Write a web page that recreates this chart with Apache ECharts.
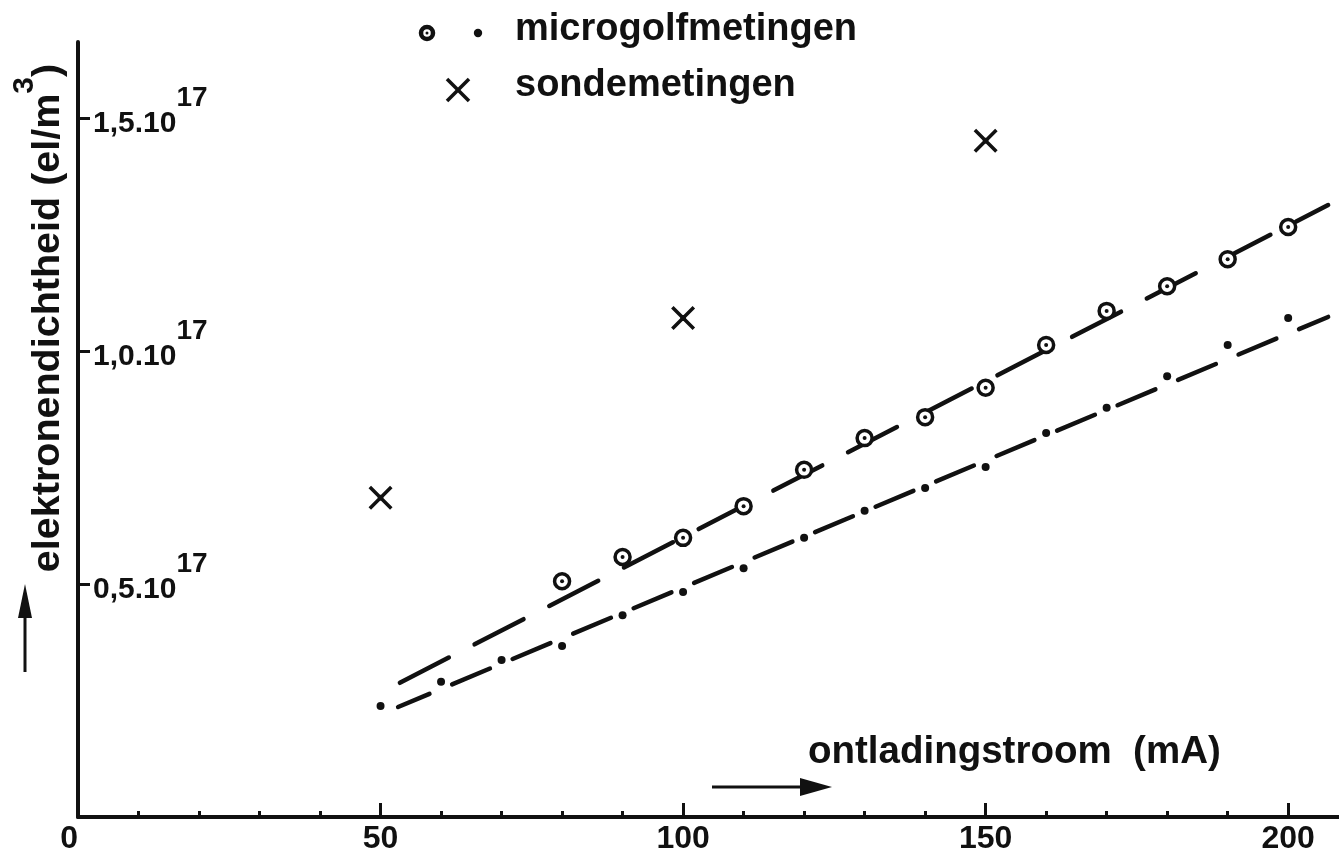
<!DOCTYPE html>
<html>
<head>
<meta charset="utf-8">
<title>elektronendichtheid</title>
<script src="https://cdn.jsdelivr.net/npm/echarts@6/dist/echarts.min.js"></script>
<style>
html, body { margin: 0; padding: 0; background: #fff; }
#chart { width: 1339px; height: 854px; }
</style>
</head>
<body>
<div id="chart"></div>
<script>
// microgolfmetingen, open rondjes (x: mA, y: 10^17 el/m3)
const ringCurrent = [80, 90, 100, 110, 120, 130, 140, 150, 160, 170, 180, 190, 200]
const ringDensity = [0.506, 0.558, 0.599, 0.667, 0.745, 0.813, 0.858, 0.921, 1.013, 1.086, 1.139, 1.197, 1.266]

// microgolfmetingen, punten
const dotCurrent = [50, 60, 70, 80, 90, 100, 110, 120, 130, 140, 150, 160, 170, 180, 190, 200]
const dotDensity = [0.238, 0.290, 0.337, 0.367, 0.433, 0.483, 0.534, 0.599, 0.657, 0.706, 0.751, 0.824, 0.878, 0.946, 1.013, 1.071]

// sondemetingen
const probeCurrent = [50, 100, 150]
const probeDensity = [0.685, 1.071, 1.451]

// getekende lijnen: begin- en eindpunt
const upperFit = [[53.2, 0.288], [206.6, 1.313]]
const lowerFit = [[52.9, 0.236], [206.6, 1.073]]

// asverdeling
const xLabelValues = [0, 50, 100, 150, 200]
const xMinorTicks = [10, 20, 30, 40, 60, 70, 80, 90, 110, 120, 130, 140, 160, 170, 180, 190]
const xMajorTicks = [50, 100, 150, 200]
const yTickValues = [0.5, 1.0, 1.5]

const ink = '#111'
const font = 'Liberation Sans'
const zip = (xs, ys) => xs.map((x, i) => [x, ys[i]])

const chart = echarts.init(document.getElementById('chart'))

const option = {
  backgroundColor: '#fff',
  animation: false,
  textStyle: { fontFamily: font, color: ink },
  grid: { left: 78, right: 0, top: 42, bottom: 37, containLabel: false, outerBoundsMode: 'none' },
  xAxis: [
    {
      type: 'value',
      min: 0,
      max: 208.4,
      axisLine: { show: true, lineStyle: { color: ink, width: 4 } },
      axisTick: { show: true, inside: true, length: 6, customValues: xMinorTicks, lineStyle: { color: ink, width: 3 } },
      axisLabel: {
        customValues: xLabelValues,
        alignMinLabel: 'right',
        margin: 6,
        color: ink,
        fontFamily: font,
        fontWeight: 'bold',
        fontSize: 32
      },
      splitLine: { show: false }
    },
    {
      // alleen de langere streepjes bij 50, 100, 150, 200
      type: 'value',
      min: 0,
      max: 208.4,
      position: 'bottom',
      axisLine: { show: false },
      axisTick: { show: true, inside: true, length: 14, customValues: xMajorTicks, lineStyle: { color: ink, width: 3 } },
      axisLabel: { show: false },
      splitLine: { show: false }
    }
  ],
  yAxis: {
    type: 'value',
    min: 0,
    max: 1.663,
    axisLine: { show: true, lineStyle: { color: ink, width: 4 } },
    axisTick: { show: true, inside: true, length: 12, customValues: yTickValues, lineStyle: { color: ink, width: 3 } },
    axisLabel: {
      customValues: yTickValues,
      inside: true,
      margin: 15,
      padding: [0, 0, 13, 0],
      formatter: function(v) {
        return '{b|' + v.toFixed(1).replace('.', ',') + '.10}{s|17}'
      },
      rich: {
        b: { fontFamily: font, fontWeight: 'bold', fontSize: 30, lineHeight: 30, color: ink, verticalAlign: 'bottom' },
        s: { fontFamily: font, fontWeight: 'bold', fontSize: 28, lineHeight: 54, color: ink, verticalAlign: 'top' }
      }
    },
    splitLine: { show: false }
  },
  graphic: [
    // y-as titel
    {
      type: 'text',
      x: 68,
      y: 318,
      rotation: Math.PI / 2,
      style: {
        text: '{a|elektronendichtheid (el/m}{s|3}{a|)}',
        align: 'center',
        verticalAlign: 'bottom',
        rich: {
          a: { fontFamily: font, fontWeight: 'bold', fontSize: 39.5, lineHeight: 40, fill: ink, verticalAlign: 'bottom' },
          s: { fontFamily: font, fontWeight: 'bold', fontSize: 30, lineHeight: 58, fill: ink, verticalAlign: 'top' }
        }
      }
    },
    // pijl langs y-as
    { type: 'line', shape: { x1: 25, y1: 672, x2: 25, y2: 610 }, style: { stroke: ink, lineWidth: 3 } },
    { type: 'polygon', shape: { points: [[18, 618], [32, 618], [25, 584]] }, style: { fill: ink } },
    // x-as titel en pijl
    {
      type: 'text',
      x: 808,
      y: 752,
      style: { text: 'ontladingstroom  (mA)', fontFamily: font, fontWeight: 'bold', fontSize: 38.5, fill: ink, verticalAlign: 'middle' }
    },
    { type: 'line', shape: { x1: 712, y1: 787, x2: 805, y2: 787 }, style: { stroke: ink, lineWidth: 3 } },
    { type: 'polygon', shape: { points: [[800, 778], [800, 796], [832, 787]] }, style: { fill: ink } },
    // legenda
    { type: 'circle', shape: { cx: 427, cy: 33, r: 6 }, style: { fill: '#fff', stroke: ink, lineWidth: 4.5 } },
    { type: 'circle', shape: { cx: 427, cy: 33, r: 1.5 }, style: { fill: ink } },
    { type: 'circle', shape: { cx: 478, cy: 33, r: 4.2 }, style: { fill: ink } },
    {
      type: 'text',
      x: 515,
      y: 30,
      style: { text: 'microgolfmetingen', fontFamily: font, fontWeight: 'bold', fontSize: 38, fill: ink, verticalAlign: 'middle' }
    },
    { type: 'line', shape: { x1: 447, y1: 79, x2: 469, y2: 101 }, style: { stroke: ink, lineWidth: 3.5 } },
    { type: 'line', shape: { x1: 447, y1: 101, x2: 469, y2: 79 }, style: { stroke: ink, lineWidth: 3.5 } },
    {
      type: 'text',
      x: 515,
      y: 86,
      style: { text: 'sondemetingen', fontFamily: font, fontWeight: 'bold', fontSize: 38, fill: ink, verticalAlign: 'middle' }
    }
  ],
  series: [
    {
      name: 'lijn microgolf (rondjes)',
      type: 'line',
      data: upperFit,
      symbol: 'none',
      z: 2,
      lineStyle: { color: ink, width: 4.5, type: [55, 29], cap: 'round' }
    },
    {
      name: 'lijn microgolf (punten)',
      type: 'line',
      data: lowerFit,
      symbol: 'none',
      z: 2,
      lineStyle: { color: ink, width: 4.5, type: [41, 24.6], dashOffset: 7, cap: 'round' }
    },
    {
      name: 'microgolfmetingen',
      type: 'scatter',
      data: zip(ringCurrent, ringDensity),
      symbol: 'circle',
      symbolSize: 15,
      z: 3,
      itemStyle: { color: '#fff', borderColor: ink, borderWidth: 3.5, opacity: 1 }
    },
    {
      name: 'microgolfmetingen kern',
      type: 'scatter',
      data: zip(ringCurrent, ringDensity),
      symbol: 'circle',
      symbolSize: 4,
      z: 4,
      itemStyle: { color: ink, opacity: 1 }
    },
    {
      name: 'microgolfmetingen punten',
      type: 'scatter',
      data: zip(dotCurrent, dotDensity),
      symbol: 'circle',
      symbolSize: 8,
      z: 3,
      itemStyle: { color: ink, opacity: 1 }
    },
    {
      name: 'sondemetingen',
      type: 'scatter',
      data: zip(probeCurrent, probeDensity),
      symbol: 'path://M2.5,0 L12,9.5 L21.5,0 L24,2.5 L14.5,12 L24,21.5 L21.5,24 L12,14.5 L2.5,24 L0,21.5 L9.5,12 L0,2.5 Z M9,9 L15,9 L15,15 L9,15 Z',
      symbolSize: 24,
      z: 3,
      itemStyle: { color: ink, opacity: 1 }
    }
  ]
}

chart.setOption(option)
</script>
</body>
</html>
